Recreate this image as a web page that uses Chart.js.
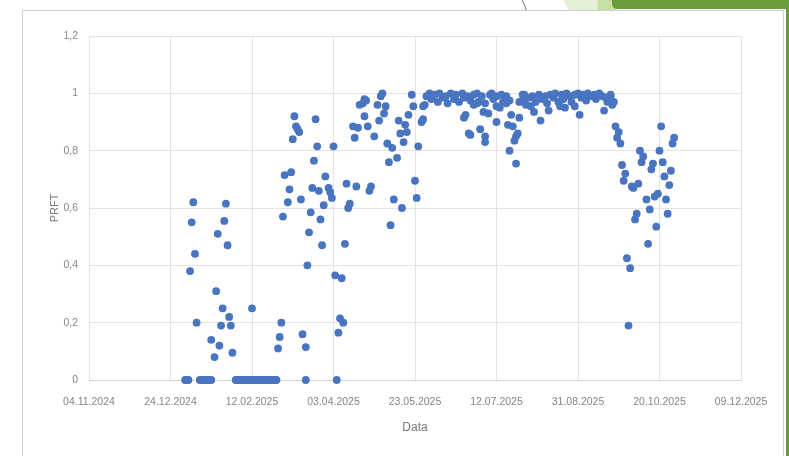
<!DOCTYPE html>
<html>
<head>
<meta charset="utf-8">
<script src="https://cdn.jsdelivr.net/npm/chart.js@4/dist/chart.umd.min.js"></script>
<style>
  html, body { margin: 0; padding: 0; background: #ffffff; }
  #wrap { position: relative; width: 789px; height: 456px; }
</style>
</head>
<body>
<div id="wrap"><canvas id="c" width="789" height="456"></canvas></div>
<script>
// Day 0 of the horizontal axis
const START_DATE = [2024, 10, 4]; // 04.11.2024 (month is zero based)

// Days after START_DATE for each measurement
const dayOffsets = [
  59, 60, 61, 62, 63, 64, 65, 66, 68, 69, 70, 71, 72, 73, 74, 75, 75, 77, 78, 79,
  80, 81, 82, 83, 84, 85, 86, 87, 88, 90, 91, 92, 93, 94, 95, 96, 97, 98, 99, 100,
  100, 101, 102, 103, 104, 105, 106, 107, 108, 109, 110, 111, 112, 113, 114, 115, 116, 117, 118, 119,
  120, 122, 123, 124, 125, 126, 127, 128, 129, 130, 131, 133, 133, 134, 135, 136, 137, 138, 139, 140,
  141, 142, 143, 144, 145, 147, 148, 149, 150, 151, 152, 153, 154, 155, 156, 157, 158, 159, 160, 162,
  163, 164, 165, 166, 168, 169, 169, 170, 171, 172, 173, 175, 177, 178, 179, 180, 181, 182, 183, 184,
  185, 186, 187, 189, 190, 191, 192, 193, 194, 195, 196, 198, 199, 200, 201, 202, 204, 205, 205, 206,
  207, 209, 210, 212, 214, 215, 217, 219, 220, 222, 224, 225, 227, 229, 230, 230, 231, 232, 233, 234,
  234, 236, 236, 238, 238, 239, 240, 241, 242, 243, 243, 243, 245, 246, 247, 248, 250, 250, 250, 252,
  253, 254, 256, 256, 257, 258, 258, 259, 260, 261, 262, 262, 263, 264, 264, 266, 267, 267, 268, 270,
  271, 272, 273, 274, 276, 277, 278, 280, 281, 282, 283, 285, 286, 288, 289, 290, 291, 292, 293, 295,
  296, 298, 298, 300, 301, 302, 303, 305, 306, 308, 310, 311, 313, 315, 316, 317, 318, 320, 320, 321,
  322, 323, 324, 325, 326, 327, 328, 329, 330, 331, 332, 333, 334, 335, 336, 337, 338, 339, 340, 342,
  343, 344, 345, 346, 347, 348, 349, 350, 351, 352, 353, 354, 355, 356, 357, 358, 359
];

// PRFT value for each measurement
const prftValues = [
  0, 0, 0, 0.38, 0.55, 0.62, 0.44, 0.20, 0, 0, 0, 0, 0, 0, 0, 0, 0.14, 0.08, 0.31, 0.51,
  0.12, 0.19, 0.25, 0.555, 0.615, 0.47, 0.22, 0.19, 0.095, 0, 0, 0, 0, 0, 0, 0, 0, 0, 0, 0,
  0.25, 0, 0, 0, 0, 0, 0, 0, 0, 0, 0, 0, 0, 0, 0, 0, 0.11, 0.15, 0.20, 0.57,
  0.715, 0.62, 0.665, 0.725, 0.84, 0.92, 0.885, 0.875, 0.865, 0.63, 0.16, 0, 0.115, 0.40, 0.515, 0.585, 0.67, 0.765, 0.91, 0.815,
  0.66, 0.56, 0.47, 0.61, 0.71, 0.67, 0.655, 0.635, 0.815, 0.365, 0, 0.165, 0.215, 0.355, 0.20, 0.475, 0.685, 0.60, 0.615, 0.885,
  0.845, 0.675, 0.88, 0.96, 0.965, 0.92, 0.98, 0.975, 0.885, 0.66, 0.675, 0.85, 0.96, 0.905, 0.99, 1.0, 0.93, 0.955, 0.825, 0.76,
  0.54, 0.81, 0.63, 0.775, 0.905, 0.86, 0.60, 0.83, 0.89, 0.865, 0.925, 0.995, 0.955, 0.695, 0.635, 0.815, 0.90, 0.91, 0.955, 0.96,
  0.99, 1.0, 0.98, 0.995, 0.97, 1.0, 0.985, 0.99, 0.965, 1.0, 0.98, 0.995, 0.97, 1.0, 0.985, 0.915, 0.925, 0.99, 0.86, 0.975,
  0.855, 0.96, 0.995, 1.0, 0.965, 0.97, 0.875, 0.99, 0.935, 0.965, 0.85, 0.83, 0.93, 0.995, 1.0, 0.98, 0.99, 0.90, 0.955, 0.95,
  0.995, 0.97, 0.99, 0.965, 0.89, 0.975, 0.80, 0.925, 0.885, 0.835, 0.755, 0.85, 0.86, 0.915, 0.97, 0.995, 0.995, 0.98, 0.96, 0.985,
  0.955, 0.99, 0.935, 0.97, 0.995, 0.905, 0.98, 0.99, 0.965, 0.94, 0.995, 0.985, 1.0, 0.97, 0.955, 0.995, 0.98, 0.95, 1.0, 0.99,
  0.97, 0.995, 0.955, 1.0, 0.925, 0.985, 0.995, 0.975, 1.0, 0.99, 0.995, 0.98, 1.0, 0.99, 0.94, 0.985, 0.97, 0.99, 0.995, 0.96,
  0.97, 0.885, 0.845, 0.865, 0.825, 0.75, 0.695, 0.72, 0.425, 0.19, 0.39, 0.675, 0.67, 0.56, 0.58, 0.685, 0.80, 0.76, 0.78, 0.63,
  0.475, 0.595, 0.735, 0.755, 0.64, 0.535, 0.65, 0.80, 0.885, 0.76, 0.71, 0.63, 0.58, 0.68, 0.73, 0.825, 0.845
];

// Axis ranges and steps
const xRangeDays = [0, 400];
const xStepDays = 50;
const yRange = [0, 1.2];
const yStep = 0.2;

const axisTitleX = 'Data';
const axisTitleY = 'PRFT';

const points = dayOffsets.map((d, i) => ({ x: d, y: prftValues[i] }));

function dayLabel(offset) {
  const t = Date.UTC(START_DATE[0], START_DATE[1], START_DATE[2]) + offset * 86400000;
  const dt = new Date(t);
  const dd = String(dt.getUTCDate()).padStart(2, '0');
  const mm = String(dt.getUTCMonth() + 1).padStart(2, '0');
  return dd + '.' + mm + '.' + dt.getUTCFullYear();
}

function commaNumber(v) {
  return String(Number(v.toFixed(1))).replace('.', ',');
}

const FONT = "'Liberation Sans', Arial, sans-serif";
const TEXT_GRAY = '#858585';

// Slide frame and the green header ornament behind the chart
const slideBackground = {
  id: 'slideBackground',
  beforeDraw(chart) {
    const ctx = chart.ctx;
    ctx.save();
    ctx.fillStyle = '#ffffff';
    ctx.fillRect(0, 0, chart.width, chart.height);

    // thin curved stroke at the top
    ctx.strokeStyle = '#6e6e6e';
    ctx.lineWidth = 1;
    ctx.beginPath();
    ctx.moveTo(522, 0);
    ctx.quadraticCurveTo(525, 5, 526.5, 11);
    ctx.stroke();

    // pale green band
    ctx.fillStyle = '#e4f0d8';
    ctx.beginPath();
    ctx.moveTo(563, 0); ctx.lineTo(600, 0); ctx.lineTo(598, 10); ctx.lineTo(569, 10);
    ctx.closePath(); ctx.fill();

    // light green band
    ctx.fillStyle = '#c6e0a4';
    ctx.beginPath();
    ctx.moveTo(598, 0); ctx.lineTo(616, 0); ctx.lineTo(616, 10); ctx.lineTo(597, 10);
    ctx.closePath(); ctx.fill();

    // dark green bar
    ctx.fillStyle = '#6b9a3b';
    ctx.beginPath();
    ctx.moveTo(612, 0); ctx.lineTo(789, 0); ctx.lineTo(789, 9); ctx.lineTo(618, 9);
    ctx.quadraticCurveTo(612, 9, 612, 3);
    ctx.closePath(); ctx.fill();

    // green strip at the right edge
    ctx.fillStyle = '#6b9a3b';
    ctx.fillRect(786, 0, 3, chart.height);

    // chart frame
    ctx.strokeStyle = '#cfcfcf';
    ctx.lineWidth = 1;
    ctx.strokeRect(22.5, 10.5, 761, 470);
    ctx.restore();
  }
};

new Chart(document.getElementById('c'), {
  type: 'scatter',
  data: {
    datasets: [{
      label: axisTitleY,
      data: points,
      backgroundColor: '#4874c0',
      borderWidth: 0,
      pointRadius: 3.9,
      pointHoverRadius: 3.9,
      clip: false
    }]
  },
  plugins: [slideBackground],
  options: {
    responsive: false,
    animation: false,
    devicePixelRatio: 1,
    layout: { padding: { left: 44, top: 36, right: 48, bottom: 17 } },
    plugins: {
      legend: { display: false },
      tooltip: { enabled: false }
    },
    scales: {
      x: {
        type: 'linear',
        min: xRangeDays[0],
        max: xRangeDays[1],
        afterFit(scale) { scale.height = 59; },
        grid: { color: '#e3e3e3', lineWidth: 1, drawTicks: false },
        border: { display: true, color: '#d4d4d4' },
        ticks: {
          stepSize: xStepDays,
          padding: 16,
          color: TEXT_GRAY,
          font: { family: FONT, size: 10.5 },
          maxRotation: 0,
          autoSkip: false,
          callback: (v) => dayLabel(v)
        },
        title: {
          display: true,
          text: axisTitleX,
          color: '#7a7a7a',
          font: { family: FONT, size: 12 },
          padding: { top: 4, bottom: 4 }
        }
      },
      y: {
        min: yRange[0],
        max: yRange[1],
        afterFit(scale) { scale.width = 45; },
        grid: { color: '#e3e3e3', lineWidth: 1, drawTicks: false },
        border: { display: false },
        ticks: {
          stepSize: yStep,
          padding: 11,
          color: TEXT_GRAY,
          font: { family: FONT, size: 10.5 },
          callback: (v) => commaNumber(v)
        },
        title: {
          display: true,
          text: axisTitleY,
          color: '#7a7a7a',
          font: { family: FONT, size: 11 },
          padding: { top: 4, bottom: 4 }
        }
      }
    }
  }
});
</script>
</body>
</html>
